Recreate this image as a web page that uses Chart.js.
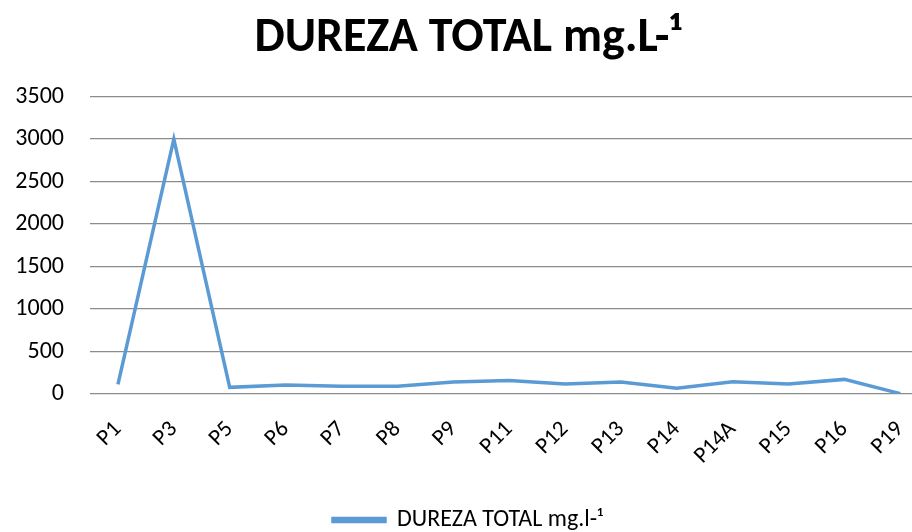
<!DOCTYPE html>
<html>
<head>
<meta charset="utf-8">
<script src="https://cdn.jsdelivr.net/npm/chart.js@4.4.1/dist/chart.umd.min.js"></script>
<style>
  html, body { margin: 0; padding: 0; background: #fff; overflow: hidden; }
  #wrap { width: 912px; height: 532px; overflow: hidden; }
  #box { width: 942px; height: 532px; }
</style>
</head>
<body>
<div id="wrap"><div id="box"><canvas id="chart"></canvas></div></div>
<script>
const points = ['P1', 'P3', 'P5', 'P6', 'P7', 'P8', 'P9', 'P11', 'P12', 'P13', 'P14', 'P14A', 'P15', 'P16', 'P19'];
const dureza = [112, 3000, 78, 105, 90, 90, 140, 160, 117, 140, 67, 145, 118, 172, 5];
const yTicks = [0, 500, 1000, 1500, 2000, 2500, 3000, 3500];

const fontFamily = "Carlito, 'Open Sans', 'Liberation Sans', sans-serif";

new Chart(document.getElementById('chart'), {
  type: 'line',
  data: {
    labels: points,
    datasets: [
      {
        label: 'DUREZA TOTAL mg.l-¹',
        data: dureza,
        borderColor: '#5b9bd5',
        backgroundColor: '#5b9bd5',
        borderWidth: 3.5,
        pointRadius: 0,
        tension: 0,
        fill: false,
      },
    ],
  },
  options: {
    responsive: true,
    maintainAspectRatio: false,
    animation: false,
    layout: { padding: { left: 0, right: 6, top: 0, bottom: -10 } },
    scales: {
      x: {
        offset: true,
        grid: { display: false, drawTicks: false },
        border: { display: false },
        ticks: {
          color: '#000',
          font: { family: fontFamily, size: 23 },
          minRotation: 45,
          maxRotation: 45,
          autoSkip: false,
          padding: 22,
        },
        afterFit: (scale) => { scale.height = 110; },
      },
      y: {
        min: 0,
        max: 3500,
        afterBuildTicks: (scale) => { scale.ticks = yTicks.map((v) => ({ value: v })); },
        grid: { color: '#8c8c8c', lineWidth: 1.3, drawTicks: false },
        border: { display: false },
        ticks: {
          color: '#000',
          font: { family: fontFamily, size: 24 },
          padding: 26,
          callback: (v) => String(v),
        },
        afterFit: (scale) => { scale.width = 90; },
      },
    },
    plugins: {
      title: {
        display: true,
        text: 'DUREZA TOTAL mg.L-¹',
        color: '#000',
        font: { family: fontFamily, size: 48, weight: 'bold', lineHeight: 1.2 },
        padding: { top: 10, bottom: 29 },
        align: 'center',
      },
      legend: {
        position: 'bottom',
        labels: {
          color: '#000',
          font: { family: fontFamily, size: 24 },
          boxWidth: 52,
          boxHeight: 3,
          padding: 4,
        },
      },
      tooltip: { enabled: false },
    },
  },
});
</script>
</body>
</html>
